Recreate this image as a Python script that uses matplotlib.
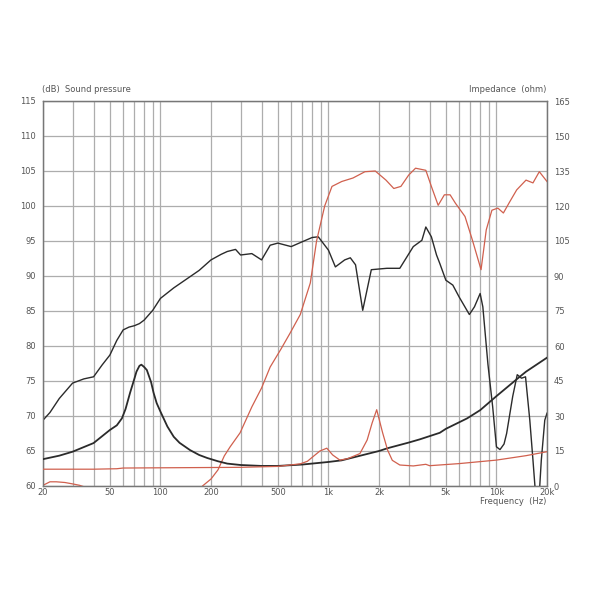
import matplotlib
matplotlib.use("Agg")
import matplotlib.pyplot as plt
from matplotlib.ticker import FixedLocator, NullFormatter, NullLocator

# ---------------- data ----------------
# Black SPL (dB)
spl_blk_f = [20, 22, 25, 30, 35, 40, 45, 50, 55, 60, 65, 70, 75, 80, 90, 100, 120, 150, 170,
             200, 230, 250, 280, 300, 350, 400, 450, 500, 600, 700, 800, 870, 1000, 1100,
             1250, 1350, 1450, 1600, 1800, 2000, 2230, 2660, 3200, 3600, 3800, 4100, 4400,
             4600, 5000, 5500, 6000, 6900, 7400, 8000, 8300, 8900, 9500, 10000, 10500,
             11100, 11500, 12500, 13300, 14100, 14900, 15800, 16500, 17200, 17900, 18500,
             19400, 20000]
spl_blk_db = [69.4, 70.5, 72.5, 74.7, 75.3, 75.6, 77.3, 78.7, 80.8, 82.3, 82.7, 82.9, 83.2,
              83.7, 85.1, 86.8, 88.3, 89.9, 90.8, 92.3, 93.1, 93.5, 93.8, 93.0, 93.2, 92.3,
              94.4, 94.7, 94.2, 94.9, 95.5, 95.6, 93.7, 91.3, 92.3, 92.6, 91.6, 85.1, 90.9,
              91.0, 91.1, 91.1, 94.2, 95.1, 97.0, 95.6, 93.0, 91.8, 89.4, 88.7, 87.0, 84.5,
              85.6, 87.5, 85.6, 77.4, 71.3, 65.6, 65.2, 66.0, 67.5, 72.8, 75.9, 75.4, 75.6,
              69.4, 63.7, 58.0, 58.0, 63.7, 69.4, 70.4]

# Red SPL (dB)
spl_red_f = [20, 22, 24, 27, 30, 33, 36, 45, 70, 110, 150, 178, 200, 220, 240, 260, 298, 350,
             400, 450, 520, 590, 680, 780, 850, 950, 1050, 1200, 1400, 1650, 1900, 2200,
             2450, 2700, 3000, 3300, 3800, 4100, 4500, 4900, 5300, 5700, 6500, 7200, 8100,
             8700, 9400, 10200, 11000, 12000, 13200, 15000, 16500, 18000, 20000]
spl_red_db = [60.1, 60.6, 60.6, 60.5, 60.3, 60.1, 59.8, 58.5, 56.0, 55.0, 57.0, 60.0, 61.0,
              62.3, 64.3, 65.6, 67.6, 71.3, 74.0, 77.0, 79.5, 81.8, 84.5, 89.0, 95.0, 100.0,
              102.8, 103.5, 104.0, 104.9, 105.0, 103.7, 102.5, 102.8, 104.4, 105.4, 105.1,
              102.8, 100.1, 101.6, 101.6, 100.4, 98.5, 95.1, 90.9, 96.6, 99.4, 99.7, 99.0,
              100.6, 102.3, 103.7, 103.3, 104.9, 103.5]

# Black impedance (ohm)
imp_blk_f = [20, 25, 30, 40, 50, 55, 59, 62, 66, 70, 72, 75, 77, 80, 83, 88, 91, 95, 100, 110,
             120, 130, 150, 170, 190, 220, 250, 300, 400, 500, 700, 1000, 1200, 2000, 2250,
             3000, 3500, 4600, 5000, 6700, 8000, 10000, 13700, 15000, 20000]
imp_blk_ohm = [11.5, 13.0, 14.7, 18.4, 24.0, 26.0, 29.0, 33.0, 40.0, 46.0, 49.0, 51.5, 52.0,
               51.0, 49.7, 44.5, 40.0, 35.5, 31.9, 25.5, 21.1, 18.5, 15.4, 13.3, 12.0, 10.6,
               9.6, 9.0, 8.6, 8.6, 9.2, 10.3, 11.0, 15.0, 16.2, 18.6, 20.0, 22.8, 24.5, 29.0,
               32.5, 38.5, 46.7, 49.0, 55.0]

# Red impedance (ohm)
imp_red_f = [20, 40, 55, 60, 100, 300, 500, 680, 750, 810, 890, 978, 1060, 1170, 1300, 1540,
             1700, 1820, 1938, 2100, 2250, 2400, 2660, 3200, 3800, 4000, 6000, 10000, 15000,
             20000]
imp_red_ohm = [7.2, 7.2, 7.4, 7.7, 7.8, 8.0, 8.4, 9.5, 10.6, 12.6, 15.0, 16.2, 13.3, 11.1,
               11.7, 13.9, 19.7, 27.0, 32.7, 22.9, 15.4, 11.0, 9.0, 8.6, 9.3, 8.7, 9.6, 11.1,
               13.0, 14.7]

x_ticks = [20, 50, 100, 200, 500, 1000, 2000, 5000, 10000, 20000]
x_tick_labels = ["20", "50", "100", "200", "500", "1k", "2k", "5k", "10k", "20k"]
y_left_ticks = [60, 65, 70, 75, 80, 85, 90, 95, 100, 105, 110, 115]
y_right_ticks = [0, 15, 30, 45, 60, 75, 90, 105, 120, 135, 150, 165]

# ---------------- figure ----------------
BLK = "#2b2b2b"
RED = "#d0604e"
GRID = "#adadad"
TXT = "#555555"

fig = plt.figure(figsize=(5.9, 5.9), dpi=100)
ax = fig.add_axes([43 / 590, 1 - 486 / 590, 504 / 590, 385 / 590])
ax2 = ax.twinx()

ax.set_xscale("log")
ax.set_xlim(20, 20000)
ax.set_ylim(60, 115)
ax2.set_ylim(0, 165)

grid_x = []
for dec in [10, 100, 1000, 10000]:
    for m in range(1, 10):
        v = m * dec
        if 20 <= v <= 20000:
            grid_x.append(v)
for v in grid_x:
    ax.axvline(v, color=GRID, lw=0.9, zorder=0)
for v in y_left_ticks:
    ax.axhline(v, color=GRID, lw=0.9, zorder=0)

ax.plot(spl_blk_f, spl_blk_db, color=BLK, lw=1.0, zorder=3)
ax.plot(spl_red_f, spl_red_db, color=RED, lw=0.9, zorder=3)
ax2.plot(imp_blk_f, imp_blk_ohm, color=BLK, lw=1.3, zorder=3)
ax2.plot(imp_red_f, imp_red_ohm, color=RED, lw=0.9, zorder=3)

ax.xaxis.set_major_locator(FixedLocator(x_ticks))
ax.xaxis.set_minor_locator(NullLocator())
ax.xaxis.set_minor_formatter(NullFormatter())
ax.set_xticklabels(x_tick_labels)
ax.set_yticks(y_left_ticks)
ax2.set_yticks(y_right_ticks)

for a in (ax, ax2):
    a.tick_params(axis="both", which="both", length=0, labelsize=6, labelcolor=TXT, pad=5)
    for s in a.spines.values():
        s.set_color("#777777")
        s.set_linewidth(0.9)
ax.tick_params(axis="x", pad=1.5)

fig.text(42 / 590, 1 - 90 / 590, "(dB)  Sound pressure", fontsize=6, color=TXT,
         ha="left", va="center")
fig.text(546 / 590, 1 - 90 / 590, "Impedance  (ohm)", fontsize=6, color=TXT,
         ha="right", va="center")
fig.text(546 / 590, 1 - 502 / 590, "Frequency  (Hz)", fontsize=6, color=TXT,
         ha="right", va="center")

fig.savefig("out.png", dpi=100, facecolor="white")
